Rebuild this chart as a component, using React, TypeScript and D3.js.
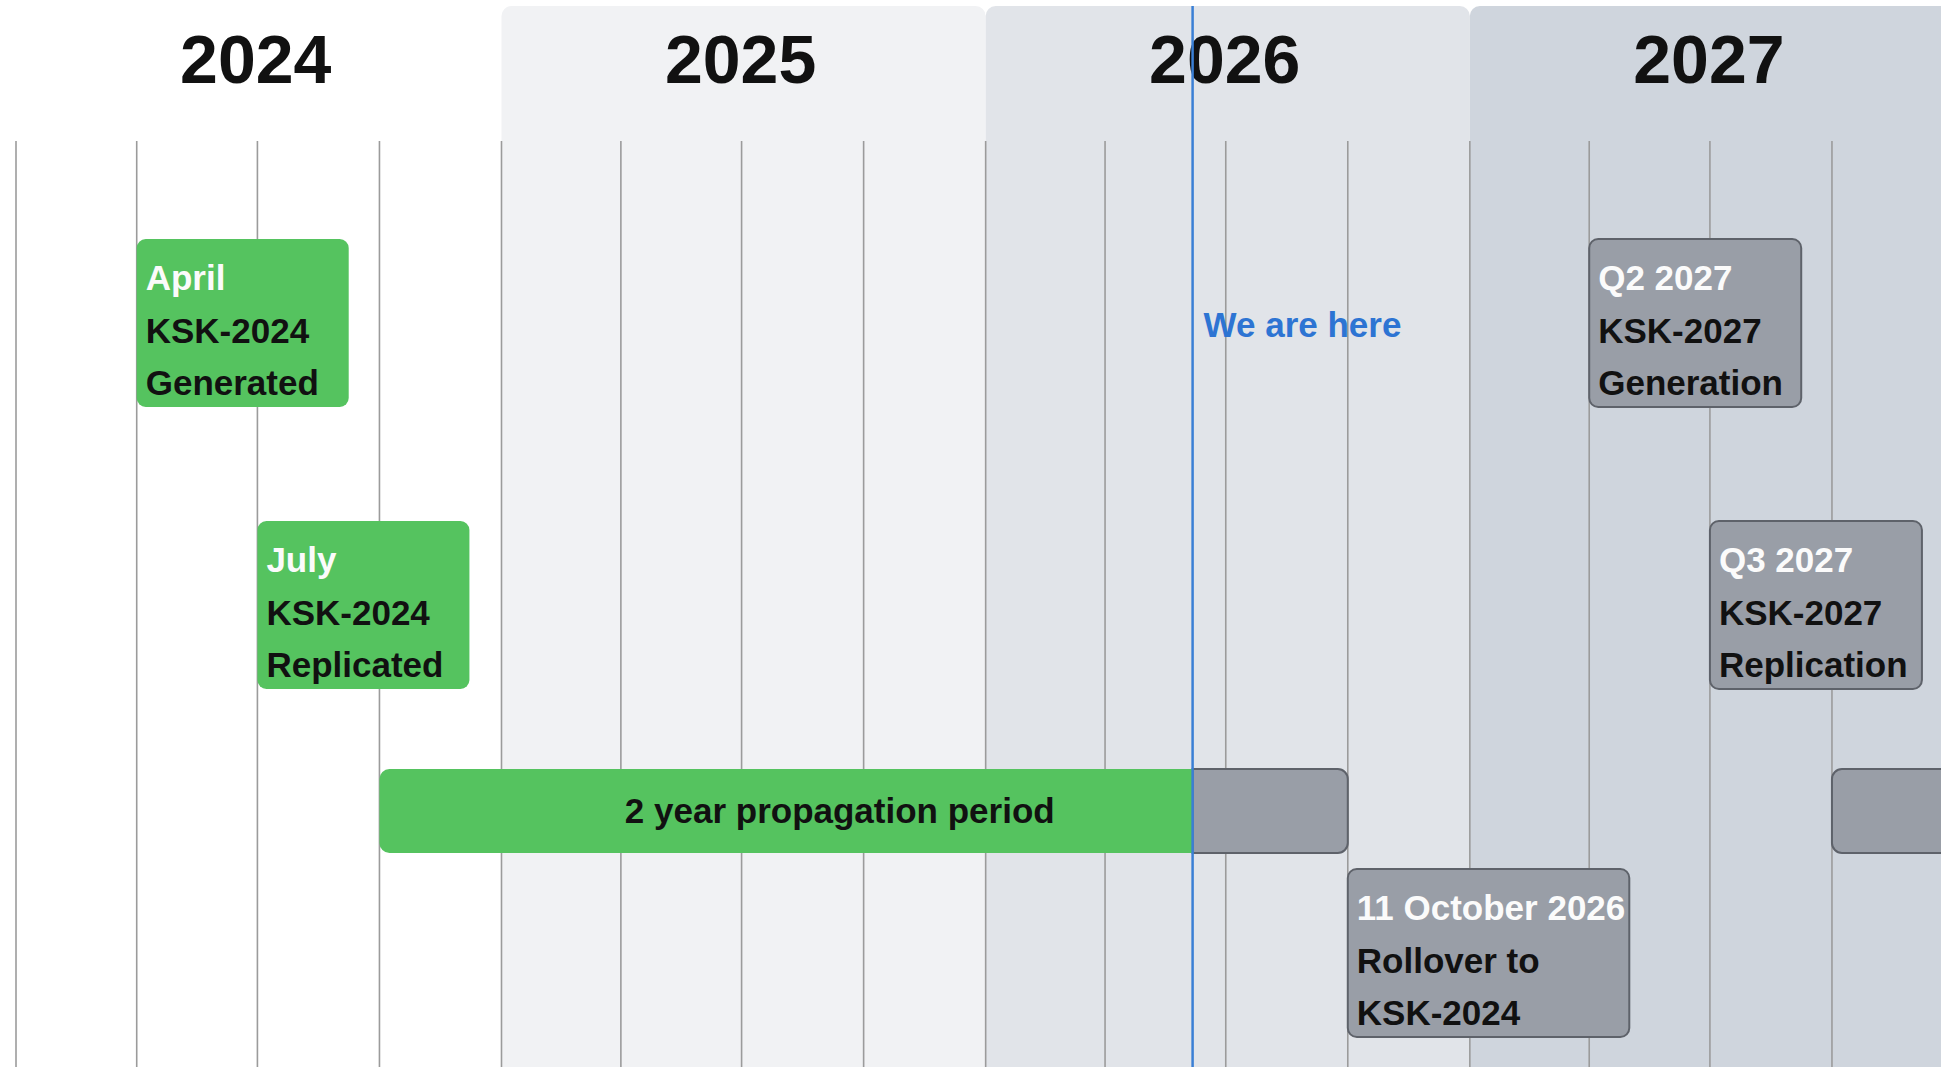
import React, { useMemo } from "react";
import * as d3 from "d3";

// ---------- data ----------
const years = [2024, 2025, 2026, 2027];
const domainStart = "2024-01-01";
const domainEnd = "2028-01-01";
const nowDate = "2026-06-06";
const nowLabel = "We are here";

const milestones = [
  { date: "2024-04-01", row: "gen", status: "done", lines: ["April", "KSK-2024", "Generated"] },
  { date: "2024-07-01", row: "rep", status: "done", lines: ["July", "KSK-2024", "Replicated"] },
  { date: "2027-04-01", row: "gen", status: "future", lines: ["Q2 2027", "KSK-2027", "Generation"] },
  { date: "2027-07-01", row: "rep", status: "future", lines: ["Q3 2027", "KSK-2027", "Replication"] },
  { date: "2026-10-01", row: "roll", status: "future", lines: ["11 October 2026", "Rollover to", "KSK-2024"] },
];

const periods = [
  { start: "2024-10-01", end: "2026-10-01", label: "2 year propagation period", labelAt: "2025-09-13" },
  { start: "2027-10-01", end: "2029-10-01", label: "", labelAt: "" },
];

// ---------- styles ----------
const W = 1941;
const H = 1067;
const FONT = "'Liberation Sans', Arial, Helvetica, sans-serif";
const bandFills = ["#ffffff", "#f1f2f4", "#e1e4e9", "#cfd5dd"];
const GREEN = "#55c35f";
const GRAY = "#999ea7";
const GRAY_STROKE = "#5e626a";
const GRID = "#9b9b9b";
const BLUE = "#3a7fd5";
const rowTop: Record<string, number> = { gen: 239, rep: 521, bar: 769, roll: 869 };
const BOX_H = 168;
const BAR_H = 84;
const FS = 35;

const parse = d3.timeParse("%Y-%m-%d");

function rr(x: number, y: number, w: number, h: number, tl: number, tr: number, br: number, bl: number) {
  return `M${x + tl},${y} H${x + w - tr} A${tr},${tr} 0 0 1 ${x + w},${y + tr} V${y + h - br} A${br},${br} 0 0 1 ${x + w - br},${y + h} H${x + bl} A${bl},${bl} 0 0 1 ${x},${y + h - bl} V${y + tl} A${tl},${tl} 0 0 1 ${x + tl},${y} Z`;
}

let ctx: CanvasRenderingContext2D | null = null;
function measure(t: string, size: number) {
  if (!ctx) {
    const c = document.createElement("canvas");
    ctx = c.getContext("2d");
  }
  if (!ctx) return t.length * size * 0.55;
  ctx.font = `700 ${size}px ${FONT}`;
  return ctx.measureText(t).width;
}

export default function App() {
  const x = useMemo(
    () => d3.scaleTime().domain([parse(domainStart)!, parse(domainEnd)!]).range([16, 1954]),
    []
  );
  const now = parse(nowDate)!;
  const xNow = x(now);
  const quarters = d3.timeMonth.every(3)!.range(parse(domainStart)!, parse(domainEnd)!);

  return (
    <svg
      width={W}
      height={H}
      viewBox={`0 0 ${W} ${H}`}
      style={{ position: "absolute", left: 0, top: 0, display: "block", background: "#fff" }}
      fontFamily={FONT}
    >
      {/* year bands */}
      {years.map((yr, i) => {
        const x0 = x(new Date(yr, 0, 1));
        const x1 = x(new Date(yr + 1, 0, 1));
        return (
          <path key={"b" + yr} d={rr(x0, 6, x1 - x0, H, 10, 10, 0, 0)} fill={bandFills[i]} />
        );
      })}
      {years.map((yr) => {
        const x0 = x(new Date(yr, 0, 1));
        const x1 = x(new Date(yr + 1, 0, 1));
        return (
          <text
            key={"t" + yr}
            x={(x0 + x1) / 2 - 3}
            y={83}
            textAnchor="middle"
            fontSize={68}
            fontWeight={700}
            fill="#111"
          >
            {yr}
          </text>
        );
      })}
      {/* quarter grid */}
      {quarters.map((q) => (
        <line
          key={"q" + q.getTime()}
          x1={x(q)}
          x2={x(q)}
          y1={141}
          y2={H}
          stroke={GRID}
          strokeWidth={1.6}
        />
      ))}
      {/* periods */}
      {periods.map((p, i) => {
        const s = parse(p.start)!;
        const e = parse(p.end)!;
        const xs = x(s);
        const xe = x(e);
        const y = rowTop.bar;
        const parts: React.ReactNode[] = [];
        if (e > now) {
          const gs = Math.max(xs, xNow);
          const lr = s >= now ? 10 : 0;
          parts.push(
            <path
              key="g"
              d={rr(gs, y, xe - gs, BAR_H, lr, 10, 10, lr)}
              fill={GRAY}
              stroke={GRAY_STROKE}
              strokeWidth={2}
            />
          );
        }
        if (s < now) {
          const ge = Math.min(xe, xNow);
          const r2 = e <= now ? 10 : 0;
          parts.push(
            <path key="p" d={rr(xs, y, ge - xs, BAR_H, 10, r2, r2, 10)} fill={GREEN} />
          );
        }
        if (p.label) {
          parts.push(
            <text
              key="l"
              x={x(parse(p.labelAt)!)}
              y={y + BAR_H / 2 + 12}
              textAnchor="middle"
              fontSize={FS}
              fontWeight={700}
              fill="#111"
            >
              {p.label}
            </text>
          );
        }
        return <g key={"p" + i}>{parts}</g>;
      })}
      {/* milestone boxes */}
      {milestones.map((m, i) => {
        const x0 = x(parse(m.date)!);
        const y0 = rowTop[m.row];
        const tw = Math.max(...m.lines.map((l) => measure(l, FS)));
        const w = Math.max(212, tw + 13);
        const done = m.status === "done";
        return (
          <g key={"m" + i}>
            <rect
              x={x0}
              y={y0}
              width={w}
              height={BOX_H}
              rx={9}
              fill={done ? GREEN : GRAY}
              stroke={done ? "none" : GRAY_STROKE}
              strokeWidth={2}
            />
            {m.lines.map((l, j) => (
              <text
                key={j}
                x={x0 + 9}
                y={y0 + 51 + j * 52.5}
                fontSize={FS}
                fontWeight={700}
                fill={j === 0 ? "#fbfbfb" : "#111"}
              >
                {l}
              </text>
            ))}
          </g>
        );
      })}
      {/* now line */}
      <line x1={xNow} x2={xNow} y1={6} y2={H} stroke={BLUE} strokeWidth={2.5} />
      <text x={xNow + 11} y={337} fontSize={FS} fontWeight={700} fill="#2d74d3">
        {nowLabel}
      </text>
    </svg>
  );
}
